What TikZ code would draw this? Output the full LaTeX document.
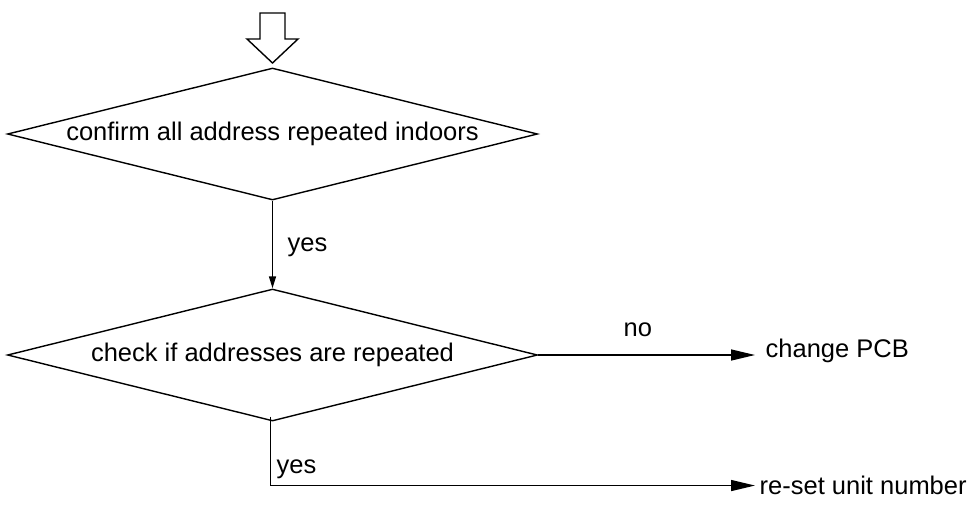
\documentclass[tikz,border=0pt]{standalone}
\usepackage{fontspec}
\setmainfont{Liberation Sans}
\usetikzlibrary{shapes.geometric,arrows.meta}
\begin{document}
\begin{tikzpicture}[x=1pt,y=-1pt,
  line width=1.4pt,
  every node/.style={font=\fontsize{25.5}{30}\selectfont},
  decision/.style={draw,diamond,aspect=4,inner sep=0pt,
    minimum width=530pt,minimum height=132pt},
  outcome/.style={inner xsep=0pt,anchor=mid west},
  label/.style={inner sep=0pt,anchor=base west},
  bigtip/.style={-{Triangle[length=24pt,width=11pt]}},
  smalltip/.style={-{Triangle[length=12pt,width=7pt]}}]
  \useasboundingbox (0,0) rectangle (968,512);

  % entry marker
  \draw (260,13) -- (285,13) -- (285,39) -- (298,39) -- (272.5,63)
        -- (247,39) -- (260,39) -- cycle;

  % decisions
  \node[decision] (d1) at (272.5,134) {confirm all address repeated indoors};
  \node[decision] (d2) at (272.5,355) {check if addresses are repeated};

  % results
  \node[outcome] (pcb) at (765,355) {change PCB};
  \node[outcome] (reset) at (759,492) {re-set unit number};

  % connectors
  \draw[smalltip] (d1.south) -- (d2.north);
  \node[label] (yes1) at (287,251) {yes};

  \draw[bigtip] (d2.east) -- ([xshift=-10pt]d2.east -| pcb.west);
  \node[label] (no) at (623,336) {no};

  \draw[bigtip] ([shift={(-2pt,5pt)}]d2.south) |- ([xshift=-4pt]reset.west);
  \node[label] (yes2) at (276,473) {yes};
\end{tikzpicture}
\end{document}
